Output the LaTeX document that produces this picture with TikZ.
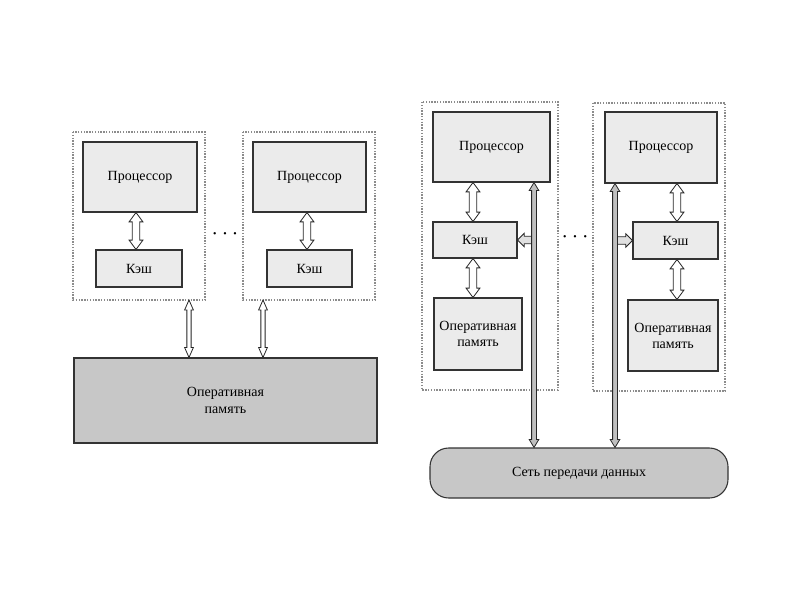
\documentclass[tikz,border=0pt]{standalone}
\usepackage{fontspec}
\setmainfont{Liberation Serif}
\usetikzlibrary{calc}
% vertical double-headed block arrow: #1 style, #2 top, #3 bottom, #4 half shaft, #5 half head, #6 head length
\newcommand\vdarr[6]{\draw[#1] let \p1=#2, \p2=#3 in
  (\x1,\y1) -- (\x1+#5,\y1-#6) -- (\x1+#4,\y1-#6) -- (\x1+#4,\y2+#6) -- (\x1+#5,\y2+#6) -- (\x1,\y2)
  -- (\x1-#5,\y2+#6) -- (\x1-#4,\y2+#6) -- (\x1-#4,\y1-#6) -- (\x1-#5,\y1-#6) -- cycle;}
% horizontal single-headed block arrow: #1 style, #2 tail, #3 tip, #4 half shaft, #5 half head, #6 head length
\newcommand\hsarr[6]{\draw[#1] let \p1=#2, \p2=#3, \n1={sign(\x2-\x1)} in
  (\x1,\y2+#4) -- (\x2-\n1*#6,\y2+#4) -- (\x2-\n1*#6,\y2+#5) -- (\x2,\y2) -- (\x2-\n1*#6,\y2-#5)
  -- (\x2-\n1*#6,\y2-#4) -- (\x1,\y2-#4) -- cycle;}
\begin{document}
\begin{tikzpicture}[x=0.75pt,y=-0.75pt,
  box/.style={draw=black!80,line width=0.8pt,fill=black!8,inner sep=0pt,font=\fontsize{10.5}{12}\selectfont,align=center},
  bigbox/.style={draw=black!80,line width=0.8pt,fill=black!22,inner sep=0pt,font=\fontsize{10.5}{13}\selectfont,align=center},
  grp/.style={draw=black!45,densely dotted,line width=1.1pt},
  blk/.style={draw=black!85,line width=0.6pt,fill=white,line join=miter},
  busst/.style={draw=black!85,line width=0.6pt,fill=black!25,line join=miter},
  tap/.style={draw=black!85,line width=0.6pt,fill=black!12,line join=miter},
  dots/.style={font=\fontsize{17}{17}\selectfont}
]
\useasboundingbox (0,0) rectangle (800,600);
% ---------- left diagram ----------
\draw[grp] (73,132) rectangle (205,300);
\draw[grp] (243,132) rectangle (375,300);
\node[box,minimum width=114*0.75pt,minimum height=70*0.75pt] (p1) at (140,177) {Процессор};
\node[box,minimum width=86*0.75pt,minimum height=37*0.75pt] (c1) at (139,268.5) {Кэш};
\node[box,minimum width=113*0.75pt,minimum height=70*0.75pt] (p2) at (309.5,177) {Процессор};
\node[box,minimum width=85*0.75pt,minimum height=37*0.75pt] (c2) at (309.5,268.5) {Кэш};
\node[dots] (d1) at (225,234) {$\cdots$};
\node[bigbox,minimum width=303*0.75pt,minimum height=85*0.75pt] (m0) at (225.5,400.5) {Оперативная\\память};
\coordinate (g1b) at (189,300);
\coordinate (g2b) at (263,300);
\vdarr{blk}{(p1.south -| 136,0)}{(c1.north -| 136,0)}{2.8pt}{5.2pt}{7pt}
\vdarr{blk}{(p2.south -| 307,0)}{(c2.north -| 307,0)}{2.8pt}{5.2pt}{7pt}
\vdarr{blk}{(g1b)}{(m0.north -| g1b)}{1.6pt}{3.3pt}{7.5pt}
\vdarr{blk}{(g2b)}{(m0.north -| g2b)}{1.6pt}{3.3pt}{7.5pt}
% ---------- right diagram ----------
\draw[grp] (422,102) rectangle (558,390);
\draw[grp] (593,103) rectangle (725,391);
\node[box,minimum width=117*0.75pt,minimum height=70*0.75pt] (p3) at (491.5,147) {Процессор};
\node[box,minimum width=84*0.75pt,minimum height=36*0.75pt] (c3) at (475,240) {Кэш};
\node[box,minimum width=88*0.75pt,minimum height=72*0.75pt] (m3) at (478,334) {Оперативная\\память};
\node[box,minimum width=112*0.75pt,minimum height=71*0.75pt] (p4) at (661,147.5) {Процессор};
\node[box,minimum width=85*0.75pt,minimum height=37*0.75pt] (c4) at (675.5,240.5) {Кэш};
\node[box,minimum width=90*0.75pt,minimum height=71*0.75pt] (m4) at (673,335.5) {Оперативная\\память};
\node[dots] (d2) at (575,237) {$\cdots$};
\node[bigbox,rounded corners=14pt,minimum width=298*0.75pt,minimum height=50*0.75pt] (net) at (579,473) {Сеть передачи данных};
\vdarr{blk}{(p3.south -| 473,0)}{(c3.north -| 473,0)}{2.8pt}{5.2pt}{7pt}
\vdarr{blk}{(c3.south -| 473,0)}{(m3.north -| 473,0)}{2.8pt}{5.2pt}{7pt}
\vdarr{blk}{(p4.south -| 677,0)}{(c4.north -| 677,0)}{2.8pt}{5.2pt}{7pt}
\vdarr{blk}{(c4.south -| 677,0)}{(m4.north -| 677,0)}{2.8pt}{5.2pt}{7pt}
\coordinate (b3c) at (535,240);
\coordinate (b4c) at (614,240);
\hsarr{tap}{(b3c)}{(c3.east)}{2.8pt}{5pt}{5pt}
\hsarr{tap}{(b4c)}{(c4.west)}{2.8pt}{5pt}{5pt}
\vdarr{busst}{(p3.south -| 534,0)}{(net.north -| 534,0)}{1.8pt}{3.6pt}{6pt}
\vdarr{busst}{(p4.south -| 615,0)}{(net.north -| 615,0)}{1.8pt}{3.6pt}{6pt}
\end{tikzpicture}
\end{document}
